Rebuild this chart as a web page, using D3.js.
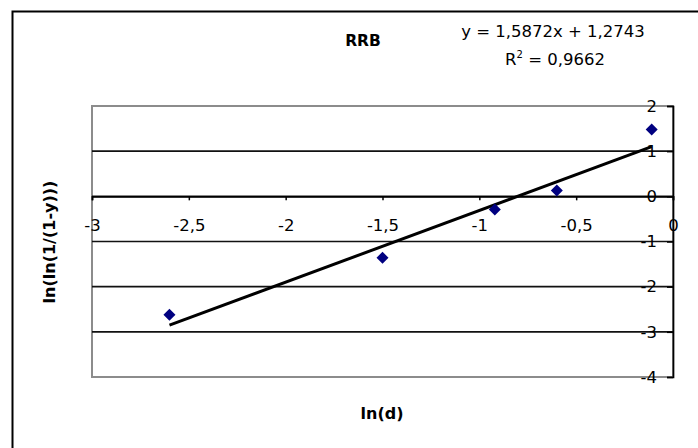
<!DOCTYPE html>
<html>
<head>
<meta charset="utf-8">
<script src="https://cdn.jsdelivr.net/npm/d3@7"></script>
<style>
  body { margin: 0; background: #fff; }
  svg text { font-family: "DejaVu Sans", sans-serif; fill: #000; }
</style>
</head>
<body>
<svg id="chart" width="698" height="448"></svg>
<script>
// Data
const lnD = [-2.6, -1.5, -0.92, -0.6, -0.11];
const lnLn = [-2.62, -1.36, -0.29, 0.13, 1.48];
const xTicks = [-3, -2.5, -2, -1.5, -1, -0.5, 0];
const yTicks = [-4, -3, -2, -1, 0, 1, 2];
const slope = 1.5872;
const intercept = 1.2743;
const rSquared = "0,9662";

const svg = d3.select("#chart");

// plot area
const plot = { left: 92, right: 673, top: 106, bottom: 377 };

const x = d3.scaleLinear().domain([-3, 0]).range([plot.left, plot.right]);
const y = d3.scaleLinear().domain([-4, 2]).range([plot.bottom, plot.top]);

const fmt = (d) => String(d).replace(".", ",");

// outer chart frame (runs off the right and bottom edges)
svg.append("rect")
  .attr("x", 12.5)
  .attr("y", 11.5)
  .attr("width", 720)
  .attr("height", 460)
  .attr("fill", "#fff")
  .attr("stroke", "#000")
  .attr("stroke-width", 2);

// plot area border (grey)
svg.append("rect")
  .attr("x", plot.left)
  .attr("y", plot.top)
  .attr("width", plot.right - plot.left)
  .attr("height", plot.bottom - plot.top)
  .attr("fill", "#fff")
  .attr("stroke", "#8c8c8c")
  .attr("stroke-width", 2);

// horizontal gridlines
svg.append("g")
  .selectAll("line")
  .data(yTicks.filter((d) => d > -4 && d < 2))
  .join("line")
  .attr("x1", plot.left)
  .attr("x2", plot.right)
  .attr("y1", (d) => y(d))
  .attr("y2", (d) => y(d))
  .attr("stroke", "#111")
  .attr("stroke-width", 1.7);

// y axis on the right edge (x = 0)
const yAxis = svg.append("g")
  .attr("transform", `translate(${x(0)},0)`)
  .call(d3.axisLeft(y).tickValues(yTicks).tickFormat(fmt).tickSize(6).tickPadding(10));

// x axis at y = 0
const xAxis = svg.append("g")
  .attr("transform", `translate(0,${y(0)})`)
  .call(d3.axisBottom(x).tickValues(xTicks).tickFormat(fmt).tickSize(4).tickPadding(19));

[xAxis, yAxis].forEach((g) => {
  g.select(".domain").attr("stroke", "#000").attr("stroke-width", 1.7);
  g.selectAll(".tick line").attr("stroke", "#000").attr("stroke-width", 1.5);
  g.selectAll(".tick text")
    .style("font-family", "DejaVu Sans, sans-serif")
    .style("font-size", "16.5px")
    .attr("fill", "#000");
});

// linear trendline over the data range
const xExt = d3.extent(lnD);
svg.append("path")
  .datum(xExt.map((v) => [v, slope * v + intercept]))
  .attr("fill", "none")
  .attr("stroke", "#000")
  .attr("stroke-width", 3)
  .attr("d", d3.line().x((d) => x(d[0])).y((d) => y(d[1])));

// markers
svg.append("g")
  .selectAll("path")
  .data(lnD.map((v, i) => [v, lnLn[i]]))
  .join("path")
  .attr("transform", (d) => `translate(${x(d[0])},${y(d[1])})`)
  .attr("d", d3.symbol(d3.symbolDiamond2, 92))
  .attr("fill", "#000080");

// title
svg.append("text")
  .attr("x", 363)
  .attr("y", 46)
  .attr("text-anchor", "middle")
  .style("font-size", "15.5px")
  .style("font-weight", "bold")
  .text("RRB");

// trendline equation
svg.append("text")
  .attr("x", 553)
  .attr("y", 37)
  .attr("text-anchor", "middle")
  .style("font-size", "16.5px")
  .text(`y = ${fmt(slope)}x + ${fmt(intercept)}`);

const r2 = svg.append("text")
  .attr("x", 555)
  .attr("y", 65)
  .attr("text-anchor", "middle")
  .style("font-size", "16.5px");
r2.append("tspan").text("R");
r2.append("tspan").attr("dy", -7).style("font-size", "10px").text("2");
r2.append("tspan").attr("dy", 7).text(` = ${rSquared}`);

// axis titles
svg.append("text")
  .attr("x", 382)
  .attr("y", 419)
  .attr("text-anchor", "middle")
  .style("font-size", "16px")
  .style("font-weight", "bold")
  .text("ln(d)");

svg.append("text")
  .attr("transform", "translate(55,242) rotate(-90)")
  .attr("text-anchor", "middle")
  .style("font-size", "16px")
  .style("font-weight", "bold")
  .text("ln(ln(1/(1-y)))");
</script>
</body>
</html>
